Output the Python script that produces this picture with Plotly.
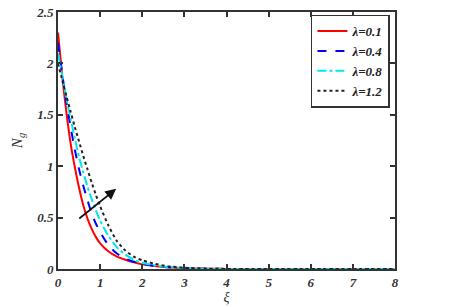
import plotly.graph_objects as go

xi = [0, 0.1, 0.2, 0.3, 0.4, 0.5, 0.6, 0.7, 0.8, 0.9, 1.0, 1.2, 1.4, 1.6, 1.8, 2.0, 2.3, 2.6, 3.0, 3.5, 4, 5, 6, 7, 8]
ng_01 = [2.30, 1.88, 1.52, 1.22, 0.99, 0.79, 0.62, 0.49, 0.39, 0.31, 0.25, 0.17, 0.12, 0.09, 0.065, 0.045, 0.028, 0.016, 0.007, 0.002, 0.001, 0, 0, 0, 0]
ng_04 = [2.20, 1.90, 1.62, 1.38, 1.16, 0.97, 0.81, 0.67, 0.54, 0.44, 0.36, 0.23, 0.15, 0.10, 0.07, 0.05, 0.03, 0.017, 0.008, 0.003, 0.001, 0, 0, 0, 0]
ng_08 = [2.10, 1.88, 1.66, 1.46, 1.27, 1.09, 0.94, 0.80, 0.68, 0.57, 0.47, 0.32, 0.21, 0.14, 0.09, 0.06, 0.035, 0.02, 0.009, 0.003, 0.001, 0, 0, 0, 0]
ng_12 = [2.00, 1.84, 1.68, 1.53, 1.38, 1.24, 1.10, 0.97, 0.84, 0.72, 0.61, 0.42, 0.27, 0.18, 0.12, 0.085, 0.05, 0.028, 0.012, 0.004, 0.001, 0, 0, 0, 0]

series_names = ["λ=0.1", "λ=0.4", "λ=0.8", "λ=1.2"]
series_vals = [ng_01, ng_04, ng_08, ng_12]
colors = ["#ff0000", "#0000ff", "#00e5ee", "#222222"]
dashes = ["solid", "dash", "dashdot", "dot"]

x_ticks = [0, 1, 2, 3, 4, 5, 6, 7, 8]
x_ticklabels = ["0", "1", "2", "3", "4", "5", "6", "7", "8"]
y_ticks = [0, 0.5, 1, 1.5, 2, 2.5]
y_ticklabels = ["0", "0.5", "1", "1.5", "2", "2.5"]

fig = go.Figure()
for name, vals, c, d in zip(series_names, series_vals, colors, dashes):
    fig.add_trace(go.Scatter(
        x=xi, y=vals, mode="lines", name="<b><i>" + name + "</i></b>",
        line=dict(color=c, dash=d, width=2, shape="spline", smoothing=0.6),
    ))

font_family = "Liberation Serif, Times New Roman, serif"
axis_common = dict(
    showline=True, linecolor="#333333", linewidth=2, mirror="ticks",
    ticks="inside", ticklen=5, tickcolor="#333333", tickwidth=1.5,
    showgrid=False, zeroline=False, automargin=False,
    tickfont=dict(family=font_family, size=13, color="#333333"),
)

fig.update_layout(
    template="none",
    width=450, height=307,
    margin=dict(l=58, r=55, t=12, b=38),
    paper_bgcolor="white", plot_bgcolor="white",
    showlegend=True,
    legend=dict(
        x=0.985, y=0.99, xanchor="right", yanchor="top",
        bordercolor="#333333", borderwidth=1.5, bgcolor="white",
        font=dict(family=font_family, size=13, color="#222222"),
        tracegroupgap=0, itemwidth=30,
    ),
    xaxis=dict(range=[0, 8], tickvals=x_ticks,
               ticktext=["<b><i>" + t + "</i></b>" for t in x_ticklabels],
               title=dict(text="<i>ξ</i>", standoff=4,
                          font=dict(family=font_family, size=14, color="#333333")),
               **axis_common),
    yaxis=dict(range=[0, 2.5], tickvals=y_ticks,
               ticktext=["<b><i>" + t + "</i></b>" for t in y_ticklabels],
               title=dict(text="<i>N<sub>g</sub></i>", standoff=10,
                          font=dict(family=font_family, size=15, color="#333333")),
               **axis_common),
)

fig.add_annotation(
    x=1.38, y=0.78, ax=0.47, ay=0.48,
    xref="x", yref="y", axref="x", ayref="y",
    showarrow=True, arrowhead=2, arrowsize=1.2, arrowwidth=1.8, arrowcolor="#111111",
    text="",
)

fig.write_html("out.html", config={"displayModeBar": False},
               post_script="document.body.style.margin='0';document.body.style.overflow='hidden';")
